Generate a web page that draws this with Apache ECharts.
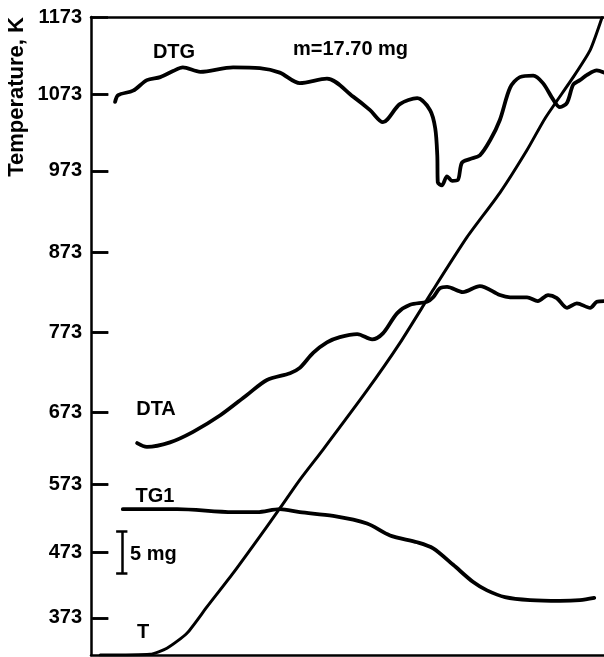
<!DOCTYPE html>
<html lang="en">
<head>
    <meta charset="UTF-8">
    <title>thermal_analysis</title>
    <style type="text/css">
        html, body { margin: 0; padding: 0; background: #fff; }
        #box { width: 604px; height: 657px; }
    </style>
</head>
<body>
<div id="box"></div>
<script type="text/javascript" src="https://cdn.jsdelivr.net/npm/echarts@6/dist/echarts.min.js"></script>
<script type="text/javascript">
    // x is time (arbitrary units, 0-100); y follows the hand-drawn temperature axis
    let dtgX = [4.7, 5.3, 8.2, 10.9, 13.5, 16.0, 17.9, 21.3, 27.7, 32.9, 36.8, 40.7, 46.0, 51.1, 54.4, 56.9, 60.2, 63.6, 66.1, 67.1, 67.5, 67.6, 68.4, 69.4, 70.4, 71.5, 72.3, 73.9, 75.8, 77.8, 79.7, 81.7, 83.6, 86.2, 88.1, 90.1, 91.4, 92.8, 94.0, 95.3, 96.7, 98.6, 100];
    let dtgY = [1060, 1069, 1075, 1089, 1093, 1101, 1106, 1100, 1106, 1105, 1099, 1085, 1091, 1067, 1049, 1033, 1057, 1065, 1049, 1025, 989, 953, 949, 961, 955, 956, 979, 984, 989, 1009, 1036, 1079, 1093, 1095, 1085, 1063, 1053, 1059, 1083, 1089, 1096, 1102, 1099];

    let dtaX = [9.0, 10.9, 15.4, 19.9, 25.2, 30.4, 34.3, 38.8, 40.7, 43.3, 46.0, 48.5, 51.9, 54.8, 56.9, 59.7, 62.2, 65.5, 66.7, 68.0, 69.4, 72.5, 75.8, 79.7, 81.7, 85.0, 87.1, 89.1, 90.8, 92.8, 94.7, 97.3, 98.6, 100];
    let dtaY = [606, 601, 607, 621, 643, 670, 690, 699, 706, 726, 740, 747, 751, 744, 752, 779, 790, 794, 800, 812, 814, 807, 815, 803, 800, 800, 795, 803, 799, 786, 792, 786, 794, 795];

    let tgX = [6.2, 16.8, 27.7, 32.4, 36.8, 40.7, 47.2, 53.8, 58.3, 63.6, 66.7, 70.6, 74.5, 77.2, 80.7, 85.6, 91.4, 95.3, 98.1];
    let tgY = [518, 518, 514, 514, 518, 514, 509, 499, 483, 474, 466, 444, 421, 410, 401, 397, 396, 397, 400];

    let tX = [1.8, 11.5, 14.8, 18.7, 22.6, 27.7, 32.4, 36.8, 40.7, 45.2, 53.8, 60.2, 66.7, 73.3, 79.7, 85.0, 88.5, 94.0, 97.3, 99.6];
    let tY = [324, 325, 333, 353, 388, 433, 477, 519, 557, 597, 676, 739, 810, 880, 939, 996, 1038, 1093, 1129, 1172];

    // tick labels and where they sit on the (uneven) drawn axis
    let tickLabels = ['373', '473', '573', '673', '773', '873', '973', '1073', '1173'];
    let tickLevels = [373.4, 460.4, 550.9, 647.2, 753.3, 859.8, 968.4, 1070.1, 1173];

    // 5 mg scale bar
    let barX = 6.0;
    let barY = [432.9, 488.8];
    let barHalf = 1.1;

    function pairs(xs, ys) {
        return xs.map(function (x, i) { return [x, ys[i]]; });
    }

    let font = '"Liberation Sans", Arial, sans-serif';

    function label(text, x, y, align) {
        return {
            type: 'text',
            x: x,
            y: y,
            style: {
                text: text,
                fill: '#000',
                font: 'bold 20px ' + font,
                textAlign: align || 'center',
                textVerticalAlign: 'middle'
            }
        };
    }

    // inner tick marks drawn as short segments off the y axis
    let tickLen = 3.4;
    let tickSegs = tickLevels.slice(0, -1).map(function (v) {
        return [{coord: [0.3, v]}, {coord: [tickLen, v]}];
    });

    let myChart = echarts.init(document.getElementById('box'));
    let lineBase = {
        type: 'line',
        smooth: 0.3,
        showSymbol: false,
        symbol: 'none',
        silent: true,
        lineStyle: {color: '#000', width: 3.8, cap: 'round', join: 'round'}
    };
    let option = {
        animation: false,
        backgroundColor: '#fff',
        grid: {left: 91, right: 0, top: 17, bottom: 2},
        xAxis: [
            {
                type: 'value', min: 0, max: 100, position: 'bottom',
                axisLine: {show: true, lineStyle: {color: '#000', width: 2.5}},
                axisTick: {show: false}, axisLabel: {show: false}, splitLine: {show: false}
            },
            {
                type: 'value', min: 0, max: 100, position: 'top',
                axisLine: {show: true, lineStyle: {color: '#000', width: 2.5}},
                axisTick: {show: false}, axisLabel: {show: false}, splitLine: {show: false}
            }
        ],
        yAxis: {
            type: 'value',
            min: 324,
            max: 1173,
            axisLine: {show: true, lineStyle: {color: '#000', width: 2.5}},
            axisTick: {
                show: true, inside: true, length: 17,
                customValues: tickLevels,
                lineStyle: {color: '#000', width: 2.5}
            },
            axisLabel: {
                show: true,
                customValues: tickLevels,
                margin: 9,
                color: '#000',
                fontFamily: font,
                fontWeight: 'bold',
                fontSize: 20,
                formatter: function (v) {
                    let i = tickLevels.indexOf(v);
                    return i >= 0 ? tickLabels[i] : '';
                }
            },
            splitLine: {show: false}
        },
        graphic: [
            {
                type: 'text',
                x: 17,
                y: 97,
                rotation: Math.PI / 2,
                style: {
                    text: 'Temperature, K',
                    fill: '#000',
                    font: 'bold 22px ' + font,
                    textAlign: 'center',
                    textVerticalAlign: 'middle'
                }
            },
            label('DTG', 174, 52),
            label('m=17.70 mg', 293, 49, 'left'),
            label('DTA', 156, 409),
            label('TG1', 155, 496),
            label('5 mg', 130, 554, 'left'),
            label('T', 143, 632)
        ],
        series: [
            Object.assign({}, lineBase, {name: 'DTG', data: pairs(dtgX, dtgY)}),
            Object.assign({}, lineBase, {name: 'DTA', data: pairs(dtaX, dtaY)}),
            Object.assign({}, lineBase, {name: 'TG1', data: pairs(tgX, tgY)}),
            Object.assign({}, lineBase, {
                name: 'T', data: pairs(tX, tY), smooth: 0.2,
                lineStyle: {color: '#000', width: 3, cap: 'round'}
            }),
            {
                type: 'line',
                name: 'ticks',
                data: [],
                markLine: {
                    symbol: 'none',
                    label: {show: false},
                    lineStyle: {color: '#000', width: 2.5, type: 'solid'},
                    data: tickSegs
                }
            },
            {
                type: 'line',
                name: 'scale',
                data: [],
                markLine: {
                    symbol: 'none',
                    label: {show: false},
                    lineStyle: {color: '#000', width: 2.5, type: 'solid'},
                    data: [
                        [{coord: [barX, barY[0]]}, {coord: [barX, barY[1]]}],
                        [{coord: [barX - barHalf, barY[0]]}, {coord: [barX + barHalf, barY[0]]}],
                        [{coord: [barX - barHalf, barY[1]]}, {coord: [barX + barHalf, barY[1]]}]
                    ]
                }
            }
        ]
    };
    myChart.setOption(option);
</script>
</body>
</html>
